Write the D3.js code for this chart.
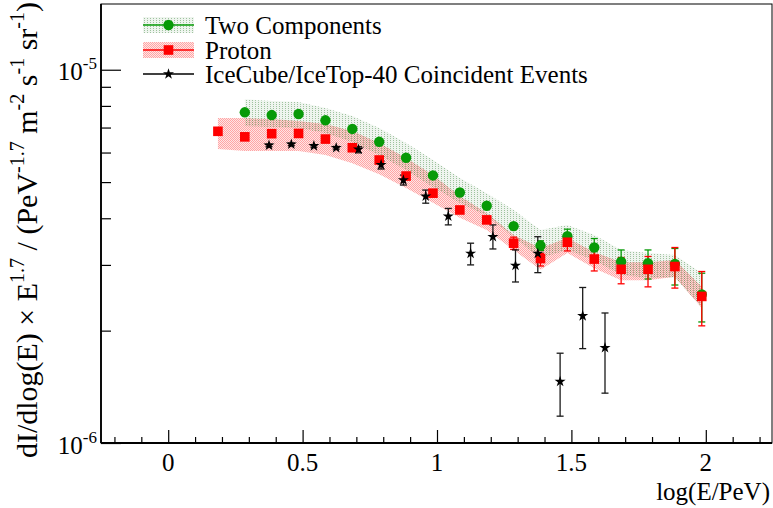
<!DOCTYPE html>
<html>
<head>
<meta charset="utf-8">
<script src="https://cdn.jsdelivr.net/npm/d3@7"></script>
<style>
  html, body { margin: 0; padding: 0; background: #fff; }
  svg { display: block; font-family: "Liberation Serif", "Times New Roman", serif; }
</style>
</head>
<body>
<svg id="chart" width="773" height="508"></svg>
<script>
// Flux values are in units of 1e-6 (PeV^-1.7 m^-2 s^-1 sr^-1)
const UNIT = 1e-6;

// Proton-only model
const protonX    = [0.185,0.285,0.385,0.485,0.585,0.685,0.785,0.885,0.985,1.085,1.185,1.285,1.385,1.485,1.585,1.685,1.785,1.885,1.985];
const protonFlux = [6.84,6.61,6.74,6.75,6.52,6.18,5.73,5.19,4.67,4.21,3.96,3.43,3.12,3.45,3.11,2.92,2.92,2.97,2.47];
const protonErrLo = [null,null,null,null,null,null,null,null,null,null,null,3.30,2.98,3.27,2.89,2.67,2.62,2.60,2.06];
const protonErrHi = [null,null,null,null,null,null,null,null,null,null,null,3.56,3.22,3.62,3.32,3.14,3.16,3.34,2.88];
const protonBandLo = [6.13,6.06,6.06,6.06,5.91,5.62,5.25,4.82,4.40,4.01,3.72,3.29,2.91,3.23,2.94,2.73,2.73,2.79,2.30];
const protonBandHi = [7.42,7.42,7.38,7.29,7.15,6.85,6.36,5.80,5.22,4.59,4.13,3.61,3.33,3.54,3.25,3.05,3.05,3.09,2.62];

// Two-component model
const twoCompX    = [0.285,0.385,0.485,0.585,0.685,0.785,0.885,0.985,1.085,1.185,1.285,1.385,1.485,1.585,1.685,1.785,1.885,1.985];
const twoCompFlux = [7.69,7.56,7.61,7.32,6.94,6.41,5.81,5.21,4.69,4.32,3.81,3.38,3.58,3.34,3.06,3.03,3.02,2.50];
const twoCompErrLo = [null,null,null,null,null,null,null,null,null,null,null,3.28,3.39,3.15,2.85,2.75,2.65,2.11];
const twoCompErrHi = [null,null,null,null,null,null,null,null,null,null,null,3.48,3.74,3.53,3.29,3.29,3.32,2.85];
const twoCompBandLo = [7.07,7.02,6.98,6.77,6.40,5.91,5.39,4.85,4.40,4.06,3.56,3.13,3.29,3.09,2.82,2.77,2.77,2.31];
const twoCompBandHi = [8.33,8.25,8.20,7.90,7.52,6.98,6.36,5.73,5.13,4.67,4.21,3.72,3.84,3.61,3.29,3.23,3.19,2.85];

// IceCube/IceTop-40 coincident events
const iceX    = [0.375,0.458,0.542,0.625,0.708,0.792,0.875,0.958,1.042,1.125,1.208,1.292,1.375,1.458,1.542,1.625];
const iceFlux = [6.27,6.31,6.25,6.18,6.12,5.56,5.06,4.58,4.05,3.22,3.57,2.99,3.22,1.46,2.19,1.80];
const iceErrLo = [6.22,6.26,6.20,6.13,5.99,5.42,4.91,4.39,3.84,3.00,3.31,2.70,2.86,1.18,1.79,1.36];
const iceErrHi = [6.32,6.36,6.30,6.23,6.22,5.69,5.22,4.76,4.25,3.43,3.84,3.29,3.57,1.74,2.61,2.23];

// Axis ticks
const xMajorTicks = [0, 0.5, 1, 1.5, 2];
const xMinorTicks = [-0.2,-0.1,0.1,0.2,0.3,0.4,0.6,0.7,0.8,0.9,1.1,1.2,1.3,1.4,1.6,1.7,1.8,1.9,2.1,2.2];
const yMajorTicks = [1e-6, 1e-5];
const yMajorExp   = ["-6", "-5"];
const yMinorTicks = [2e-6,3e-6,4e-6,5e-6,6e-6,7e-6,8e-6,9e-6];

const legendLabels = ["Two Components", "Proton", "IceCube/IceTop-40 Coincident Events"];

const GREEN = "#079a07";
const RED = "#ff0000";

const svg = d3.select("#chart");
const x = d3.scaleLinear().domain([-0.25, 2.25]).range([101, 773]);
const y = d3.scaleLog().domain([1e-6, 1.5e-5]).range([443, 4]);

// Fill textures for the model bands
const defs = svg.append("defs");
const pg = defs.append("pattern").attr("id", "fillGreen")
  .attr("patternUnits", "userSpaceOnUse").attr("width", 3).attr("height", 2);
pg.append("rect").attr("width", 3).attr("height", 2).attr("fill", "rgba(30,110,30,0.07)");
pg.append("rect").attr("width", 1).attr("height", 1).attr("fill", "rgba(30,110,30,0.38)");
const pr = defs.append("pattern").attr("id", "fillRed")
  .attr("patternUnits", "userSpaceOnUse").attr("width", 2).attr("height", 2);
pr.append("rect").attr("width", 2).attr("height", 2).attr("fill", "rgba(255,0,0,0.10)");
pr.append("rect").attr("width", 1).attr("height", 1).attr("fill", "rgba(255,0,0,0.28)");
pr.append("rect").attr("x", 1).attr("y", 1).attr("width", 1).attr("height", 1).attr("fill", "rgba(255,0,0,0.28)");

// Frame
svg.append("rect").attr("x", 101).attr("y", 4).attr("width", 671).attr("height", 439)
  .attr("fill", "none").attr("stroke", "#000").attr("stroke-width", 1);

// Bands
function band(xs, lo, hi) {
  return d3.area()
    .x((d, i) => x(xs[i]))
    .y0((d, i) => y(lo[i] * UNIT))
    .y1((d, i) => y(hi[i] * UNIT))(xs);
}
svg.append("path").attr("d", band(protonX, protonBandLo, protonBandHi)).attr("fill", "url(#fillRed)");
svg.append("path").attr("d", band(twoCompX, twoCompBandLo, twoCompBandHi)).attr("fill", "url(#fillGreen)");

// Error bars
function errorBars(xs, lo, hi, color, cls) {
  const idx = xs.map((d, i) => i).filter(i => lo[i] != null);
  const g = svg.append("g").attr("class", cls).attr("stroke", color).attr("stroke-width", 1.3).attr("fill", "none");
  g.selectAll("line.v").data(idx).join("line").attr("class", "v")
    .attr("x1", i => x(xs[i])).attr("x2", i => x(xs[i]))
    .attr("y1", i => y(lo[i] * UNIT)).attr("y2", i => y(hi[i] * UNIT));
  g.selectAll("line.lo").data(idx).join("line").attr("class", "lo")
    .attr("x1", i => x(xs[i]) - 3.5).attr("x2", i => x(xs[i]) + 3.5)
    .attr("y1", i => y(lo[i] * UNIT)).attr("y2", i => y(lo[i] * UNIT));
  g.selectAll("line.hi").data(idx).join("line").attr("class", "hi")
    .attr("x1", i => x(xs[i]) - 3.5).attr("x2", i => x(xs[i]) + 3.5)
    .attr("y1", i => y(hi[i] * UNIT)).attr("y2", i => y(hi[i] * UNIT));
}
errorBars(twoCompX, twoCompErrLo, twoCompErrHi, GREEN, "err-two");
errorBars(protonX, protonErrLo, protonErrHi, RED, "err-proton");
errorBars(iceX, iceErrLo, iceErrHi, "#1a1a1a", "err-ice");

// Markers
const star = d3.symbol().type(d3.symbolStar).size(38);
svg.append("g").selectAll("circle").data(twoCompFlux).join("circle")
  .attr("cx", (d, i) => x(twoCompX[i])).attr("cy", d => y(d * UNIT)).attr("r", 5.2).attr("fill", GREEN);
svg.append("g").selectAll("rect").data(protonFlux).join("rect")
  .attr("x", (d, i) => x(protonX[i]) - 4.8).attr("y", d => y(d * UNIT) - 4.8)
  .attr("width", 9.6).attr("height", 9.6).attr("fill", RED);
svg.append("g").selectAll("path").data(iceFlux).join("path")
  .attr("transform", (d, i) => `translate(${x(iceX[i])},${y(d * UNIT)})`)
  .attr("d", star).attr("fill", "#000");

// X axis: major and minor ticks pointing into the frame
const xAxisG = svg.append("g").attr("transform", "translate(0,443)");
xAxisG.append("g").call(d3.axisBottom(x).tickValues(xMajorTicks).tickSize(-13).tickPadding(0).tickFormat(""))
  .call(g => g.select(".domain").remove());
xAxisG.append("g").call(d3.axisBottom(x).tickValues(xMinorTicks).tickSize(-6).tickFormat(""))
  .call(g => g.select(".domain").remove());
xAxisG.selectAll("line").attr("stroke", "#000").attr("stroke-width", 1.2);
svg.append("line").attr("x1", 101).attr("x2", 772).attr("y1", 443).attr("y2", 443)
  .attr("stroke", "#000").attr("stroke-width", 1.8);
svg.append("g").selectAll("text").data(xMajorTicks).join("text")
  .attr("x", d => x(d)).attr("y", 471).attr("text-anchor", "middle")
  .attr("font-size", 25).text(d => d3.format("~g")(d));
svg.append("text").attr("x", 770).attr("y", 500).attr("text-anchor", "end")
  .attr("font-size", 25).text("log(E/PeV)");

// Y axis (log)
const yAxisG = svg.append("g").attr("transform", "translate(101,0)");
yAxisG.append("g").call(d3.axisLeft(y).tickValues(yMajorTicks).tickSize(-20).tickFormat(""))
  .call(g => g.select(".domain").remove());
yAxisG.append("g").call(d3.axisLeft(y).tickValues(yMinorTicks).tickSize(-10).tickFormat(""))
  .call(g => g.select(".domain").remove());
yAxisG.selectAll("line").attr("stroke", "#000").attr("stroke-width", 1.2);
svg.append("line").attr("x1", 101).attr("x2", 101).attr("y1", 4).attr("y2", 443)
  .attr("stroke", "#000").attr("stroke-width", 1.8);
const yl = svg.append("g").selectAll("text").data(yMajorTicks).join("text")
  .attr("x", 97).attr("y", d => y(d) + 10.5).attr("text-anchor", "end").attr("font-size", 25);
yl.append("tspan").text("10");
yl.append("tspan").attr("dy", -11).attr("font-size", 17).text((d, i) => yMajorExp[i]);

// Y axis title
const yt = svg.append("text").attr("transform", "translate(37,2) rotate(-90)")
  .attr("text-anchor", "end").attr("font-size", 30);
const titleParts = [
  ["dI/dlog(E) \u00d7 E", false], ["1.7", true], [" / (PeV", false], ["-1.7", true],
  [" m", false], ["-2", true], [" s", false], ["-1", true], [" sr", false], ["-1", true], [")", false]
];
titleParts.forEach((p, i) => {
  const prevSup = i > 0 && titleParts[i - 1][1];
  const t = yt.append("tspan").text(p[0]);
  if (p[1]) t.attr("font-size", 20).attr("dy", -13);
  else if (prevSup) t.attr("dy", 13);
});

// Legend
const legendY = [25, 50, 74];
const lg = svg.append("g");
lg.append("rect").attr("x", 143).attr("y", 17).attr("width", 51).attr("height", 16).attr("fill", "url(#fillGreen)");
lg.append("rect").attr("x", 143).attr("y", 42).attr("width", 51).attr("height", 16).attr("fill", "url(#fillRed)");
[GREEN, RED, "#000"].forEach((c, i) => {
  lg.append("line").attr("x1", 143).attr("x2", 194).attr("y1", legendY[i]).attr("y2", legendY[i])
    .attr("stroke", c).attr("stroke-width", 1.3);
});
lg.append("circle").attr("cx", 168.5).attr("cy", legendY[0]).attr("r", 5.2).attr("fill", GREEN);
lg.append("rect").attr("x", 168.5 - 4.8).attr("y", legendY[1] - 4.8).attr("width", 9.6).attr("height", 9.6).attr("fill", RED);
lg.append("path").attr("transform", `translate(168.5,${legendY[2]})`).attr("d", star).attr("fill", "#000");
lg.selectAll("text").data(legendLabels).join("text")
  .attr("x", 205).attr("y", (d, i) => legendY[i] + 8.5).attr("font-size", 25).text(d => d);
</script>
</body>
</html>
